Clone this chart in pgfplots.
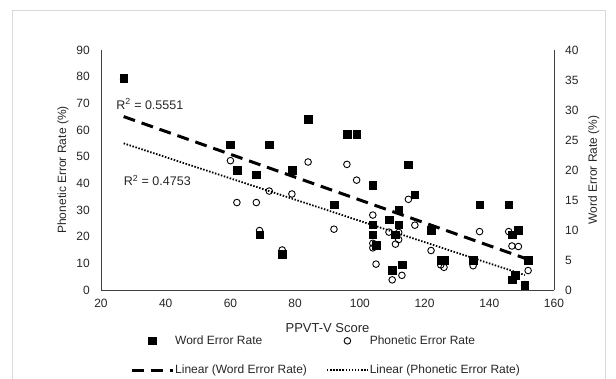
\documentclass[border=0pt]{standalone}
\usepackage{pgfplots}
\pgfplotsset{compat=1.18}
\usepackage{pgfplotstable}
\usepackage{fontspec}
\setmainfont{Liberation Sans}

\pgfplotstableread{
x p
27 79.0
60 48.5
62 32.8
68 32.8
69 22.3
72 37.1
76 15.0
79 36.0
84 48.0
92 22.8
96 47.1
99 41.2
104 28.1
104 17.5
104 15.8
105 9.7
109 21.7
110 3.8
111 17.2
112 21.6
112 18.9
113 5.5
115 34.0
117 24.3
122 14.8
125 9.4
126 8.5
135 9.1
137 21.9
146 21.9
147 16.5
147 3.8
148 5.6
149 16.3
151 2.0
152 7.3
}\phon

\pgfplotstableread{
x w
27 35.3
60 24.2
62 20.0
68 19.2
69 9.2
72 24.2
76 6.0
79 20.0
84 28.5
92 14.2
96 26.0
99 26.0
104 17.5
104 10.9
104 9.2
105 7.5
109 11.7
110 3.3
111 9.2
112 13.4
112 10.9
113 4.2
115 20.9
117 15.9
122 10.0
125 5.0
126 5.0
135 5.0
137 14.2
146 14.2
147 9.2
147 1.7
148 2.5
149 10.0
151 0.8
152 5.0
}\word

\pgfplotsset{
  myax/.style={
    at={(101pt,89pt)}, anchor=south west,
    scale only axis, width=453pt, height=240pt,
    xmin=20, xmax=160,
    major tick length=0pt,
    axis line style={black!75, line width=0.8pt},
    tick label style={font=\fontsize{12}{14}\selectfont, text=black!85},
    label style={font=\fontsize{12}{14}\selectfont, text=black!85},
    /pgf/number format/assume math mode=true,
  },
  lineimg/.style={legend image code/.code={\draw[##1] (0pt,0pt) -- (41pt,0pt);}},
  markimg/.style={legend image code/.code={\draw[##1] plot coordinates {(20.5pt,0pt)};}},
}

\begin{document}
\fontsize{12}{14}\selectfont
\begin{tikzpicture}[x=1pt,y=1pt]
\path[use as bounding box] (0,0) rectangle (616,379);
\draw[black!15, line width=0.8pt] (12,0) -- (12,369) -- (605,369) -- (605,0);

\begin{axis}[myax,
  axis x line*=bottom, axis y line*=left,
  ymin=0, ymax=90, ytick={0,10,...,90},
  xtick={20,40,...,160},
  yticklabel style={xshift=-7pt},
  xticklabel style={yshift=-5pt},
  xlabel={PPVT-V Score},
  xlabel style={at={(axis description cs:0.5,-0.158)}, anchor=center, font=\fontsize{13}{15}\selectfont},
  ylabel={Phonetic Error Rate (\%)},
  ylabel style={at={(axis description cs:-0.084,0.5)}, anchor=center},
  legend columns=2,
  legend cell align=left,
  legend style={at={(axis description cs:0.064,-0.185)}, anchor=north west,
    draw=none, fill=none, inner sep=0pt, row sep=17pt,
    font=\fontsize{12}{14}\selectfont, text=black!85,
    nodes={inner sep=1pt},
    /tikz/every even column/.append style={column sep=18pt}},
]
\addlegendimage{only marks, mark=square*, mark size=3.8pt, black, markimg}
\addlegendentry{Word Error Rate}
\addplot[only marks, mark=o, mark size=3.3pt, black, mark options={fill=white, line width=0.9pt}, markimg] table[x=x,y=p]{\phon};
\addlegendentry{Phonetic Error Rate}
\addlegendimage{black, line width=3pt, dash pattern=on 12pt off 7pt, lineimg}
\addlegendentry{Linear (Word Error Rate)}
\addplot[black, line width=1.8pt, dash pattern=on 1.5pt off 1.6pt, lineimg] coordinates {(27,55.0) (151,5.6)};
\addlegendentry{Linear (Phonetic Error Rate)}
\node[anchor=west, inner sep=0pt, font=\fontsize{12.5}{14}\selectfont, text=black!85] at (axis cs:24.7,69.7) {R\textsuperscript{2} = 0.5551};
\node[anchor=west, inner sep=0pt, font=\fontsize{12.5}{14}\selectfont, text=black!85] at (axis cs:27,41.1) {R\textsuperscript{2} = 0.4753};
\end{axis}

\begin{axis}[myax,
  axis x line=none, axis y line*=right,
  ymin=0, ymax=40, ytick={0,5,...,40},
  yticklabel style={xshift=7pt},
  ylabel={Word Error Rate (\%)},
  ylabel style={at={(axis description cs:1.088,0.5)}, anchor=center},
]
\addplot[black, line width=3pt, dash pattern=on 12pt off 7pt] coordinates {(27,28.9) (152,5.1)};
\addplot[only marks, mark=square*, mark size=3.8pt, black] table[x=x,y=w]{\word};
\end{axis}
\end{tikzpicture}
\end{document}
